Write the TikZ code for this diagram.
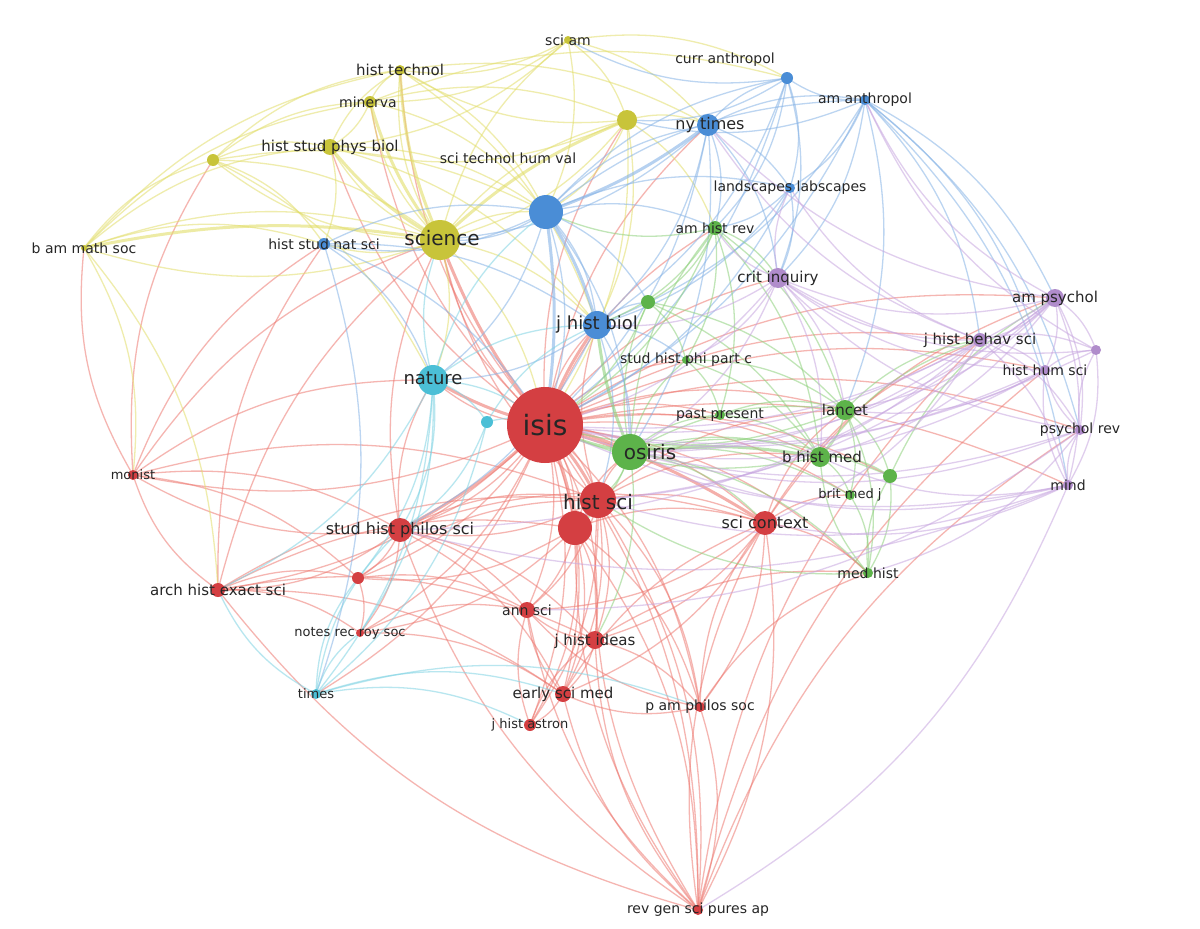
\documentclass[tikz,border=0pt]{standalone}
\usepackage{fontspec}
\setmainfont{DejaVu Sans}
\definecolor{cr}{HTML}{D43F42}\definecolor{er}{HTML}{EE7A72}
\definecolor{cy}{HTML}{C8C43A}\definecolor{ey}{HTML}{E2DE6A}
\definecolor{cb}{HTML}{4A8DD6}\definecolor{eb}{HTML}{86B3E6}
\definecolor{cg}{HTML}{5DB34A}\definecolor{eg}{HTML}{8ED17C}
\definecolor{cp}{HTML}{B08CCB}\definecolor{ep}{HTML}{C7A6E0}
\definecolor{cc}{HTML}{4BBFD6}\definecolor{ec}{HTML}{7FD3E3}
\tikzset{
 edge/.style={draw=#1, opacity=0.55, line width=1.3pt},
 thick edge/.style={draw=#1, opacity=0.6, line width=3pt},
 dot/.style={circle, fill=#1, draw=none, inner sep=0pt},
 lab/.style={font=\fontsize{#1}{#1}\selectfont, text=black!85, inner sep=0pt}
}
\begin{document}
\begin{tikzpicture}[x=1pt,y=-1pt]
\useasboundingbox[fill=white] (0,0) rectangle (1200,929);
\foreach \n/\x/\y in {isis/545/425,histsci/598/500,redb/575/528,scictx/765/523,shps/400/530,arch/218/590,monist/133/475,redc/358/578,notes/360/633,annsci/527/610,jhi/595/640,esm/563/694,jha/530/725,paps/700/707,rgs/698/910,times/316/694,nature/433/380,cyantwo/487/422,science/440/240,histtech/400/70,minerva/370/102,hspb/330/147,bams/84/248,ydot/213/160,sciam/568/40,ybig/627/120,nyt/708/125,curr/787/78,amanth/865/100,bluebig/546/212,landsc/790/188,hsns/324/244,jhb/597/325,ahr/715/228,gsm/648/302,stpc/686/360,crit/778/278,osiris/630/452,pastp/720/415,lancet/845/410,bhm/820/457,gdot/890/476,bmj/850/495,medhist/868/573,ampsy/1055/298,jhbs/980/340,pdot/1096/350,hhs/1045/370,psyrev/1080/430,mind/1068/485}
  \coordinate (\n) at (\x,\y);
% edges
\foreach \a/\b in {isis/histsci,isis/redb,isis/scictx,isis/shps,isis/arch,isis/monist,isis/redc,isis/notes,isis/annsci,isis/jhi,isis/esm,isis/jha,isis/paps,isis/rgs,isis/osiris,isis/nature,isis/science,isis/jhb,isis/lancet,isis/bhm,isis/medhist,isis/ahr,isis/crit,isis/jhbs,isis/times,isis/stpc,isis/pastp,histsci/annsci,histsci/jhi,histsci/esm,histsci/rgs,histsci/paps,histsci/scictx,histsci/shps,redb/annsci,redb/jhi,redb/jha,redb/rgs,redb/paps,shps/arch,shps/monist,shps/notes,shps/redc,shps/annsci,arch/monist,arch/notes,arch/redc,monist/science,monist/nature,monist/redc,scictx/rgs,scictx/medhist,scictx/paps,scictx/lancet,rgs/shps,rgs/annsci,rgs/esm,rgs/jhi,rgs/jhbs,esm/jha,esm/annsci,redb/scictx,histsci/osiris,jhi/paps,monist/hsns,monist/histsci,monist/shps,arch/histsci,arch/redb,arch/esm,arch/jhi,shps/esm,shps/jhi,shps/scictx,shps/histsci,redb/esm,redb/notes,redb/redc,histsci/jha,histsci/bhm,histsci/lancet,scictx/annsci,scictx/jhi,scictx/esm,scictx/bmj,scictx/ampsy,scictx/jhbs,paps/rgs,paps/esm,paps/annsci,jha/annsci,jha/jhi,jhi/annsci,jhi/esm,redc/annsci,redc/notes,redc/histsci,notes/annsci,notes/esm,rgs/redb,rgs/histsci,rgs/arch,rgs/scictx,rgs/psyrev,rgs/hhs,isis/hspb,isis/histtech,isis/minerva,isis/ybig,isis/nyt,isis/hhs,isis/mind,isis/psyrev,isis/ampsy,isis/gdot,isis/bmj,monist/ydot,monist/bams,arch/hsns,arch/science,shps/science,shps/nature,histsci/jhb,histsci/science,redb/osiris,esm/scictx,jhi/medhist,paps/medhist,paps/scictx}
  \draw[edge=er] (\a) to[bend left=18] (\b);
\foreach \a/\b in {isis/histsci,isis/redb,isis/shps,isis/osiris,histsci/redb,isis/jhb,isis/nature,isis/science,isis/scictx}
  \draw[thick edge=er] (\a) to[bend left=8] (\b);
\foreach \a/\b in {science/histtech,science/minerva,science/hspb,science/bams,science/ydot,science/sciam,science/ybig,science/hsns,science/nature,science/jhb,bams/ydot,bams/hspb,bams/minerva,bams/histtech,bams/science,bams/arch,ydot/hspb,ydot/minerva,ydot/histtech,ydot/hsns,ydot/science,sciam/histtech,sciam/ybig,sciam/nyt,sciam/minerva,ybig/histtech,ybig/nyt,ybig/hspb,ybig/isis,hspb/bluebig,histtech/bluebig,bams/monist,minerva/histtech,minerva/hspb,minerva/bluebig,minerva/ybig,hspb/histtech,hspb/hsns,hspb/jhb,histtech/nyt,histtech/jhb,science/bluebig,science/isis,sciam/bluebig,sciam/hspb,ybig/science,ybig/jhb,ybig/bluebig,ydot/bluebig,ydot/nature,bams/hsns,minerva/curr,sciam/curr,ybig/ahr}
  \draw[edge=ey] (\a) to[bend left=18] (\b);
\foreach \a/\b in {science/hspb,science/minerva,science/histtech,bams/science,science/ybig}
  \draw[thick edge=ey] (\a) to[bend left=10] (\b);
\foreach \a/\b in {bluebig/nyt,bluebig/curr,bluebig/amanth,bluebig/jhb,bluebig/isis,bluebig/science,bluebig/hsns,bluebig/landsc,bluebig/ahr,nyt/curr,nyt/amanth,nyt/landsc,nyt/jhb,nyt/isis,amanth/curr,amanth/landsc,amanth/ampsy,amanth/jhbs,amanth/crit,amanth/mind,amanth/psyrev,hsns/nature,hsns/times,hsns/jhb,curr/jhb,curr/ahr,jhb/osiris,jhb/nature,curr/sciam,nyt/science,nyt/ahr,nyt/crit,nyt/osiris,curr/landsc,curr/isis,curr/crit,amanth/isis,amanth/hhs,amanth/jhb,landsc/jhb,landsc/isis,landsc/ahr,landsc/crit,hsns/isis,hsns/bluebig,jhb/stpc,jhb/gsm,jhb/shps,jhb/histsci,bluebig/osiris,bluebig/nature,bluebig/gsm,curr/ybig,amanth/ybig,amanth/lancet}
  \draw[edge=eb] (\a) to[bend left=18] (\b);
\foreach \a/\b in {bluebig/jhb,bluebig/isis,nyt/bluebig}
  \draw[thick edge=eb] (\a) to[bend left=8] (\b);
\foreach \a/\b in {nature/times,nature/notes,nature/isis,nature/cyantwo,nature/arch,cyantwo/times,cyantwo/isis,times/shps,times/notes,times/esm,times/paps,nature/shps,nature/science,nature/jhb,nature/redc,cyantwo/shps,cyantwo/jhb,times/redc,times/arch,times/jha,nature/bluebig}
  \draw[edge=ec] (\a) to[bend left=18] (\b);
\foreach \a/\b in {osiris/ahr,osiris/gsm,osiris/stpc,osiris/pastp,osiris/lancet,osiris/bhm,osiris/gdot,osiris/bmj,osiris/medhist,osiris/scictx,lancet/bhm,lancet/bmj,lancet/medhist,lancet/gdot,ahr/stpc,ahr/gsm,ahr/crit,ahr/pastp,medhist/bhm,medhist/gdot,gsm/bhm,stpc/lancet,ahr/isis,ahr/jhb,ahr/lancet,ahr/bhm,gsm/isis,gsm/lancet,gsm/stpc,stpc/bhm,stpc/pastp,pastp/lancet,pastp/bhm,bhm/bmj,bhm/gdot,bmj/medhist,gdot/medhist,osiris/histsci,osiris/jhi,osiris/redb,lancet/isis,bhm/isis,medhist/histsci,gdot/ampsy,lancet/jhbs,bhm/jhbs,ahr/bluebig}
  \draw[edge=eg] (\a) to[bend left=18] (\b);
\foreach \a/\b in {osiris/isis,osiris/jhb,osiris/bhm}
  \draw[thick edge=eg] (\a) to[bend left=8] (\b);
\foreach \a/\b in {ampsy/jhbs,ampsy/pdot,ampsy/hhs,ampsy/psyrev,ampsy/mind,ampsy/crit,ampsy/isis,ampsy/osiris,jhbs/hhs,jhbs/pdot,jhbs/psyrev,jhbs/mind,jhbs/crit,jhbs/isis,mind/psyrev,mind/hhs,mind/isis,mind/scictx,mind/rgs,psyrev/pdot,psyrev/hhs,psyrev/medhist,crit/osiris,crit/isis,crit/jhb,hhs/lancet,pdot/mind,jhbs/landsc,ampsy/amanth,ampsy/histsci,ampsy/shps,ampsy/lancet,ampsy/bhm,jhbs/osiris,jhbs/histsci,jhbs/scictx,hhs/isis,hhs/osiris,hhs/crit,hhs/pdot,psyrev/isis,psyrev/osiris,psyrev/crit,mind/osiris,mind/histsci,mind/bhm,crit/ahr,crit/lancet,crit/bhm,crit/stpc,crit/landsc,pdot/isis,pdot/crit,pdot/amanth,jhbs/nyt,ampsy/nyt,mind/shps,psyrev/annsci}
  \draw[edge=ep] (\a) to[bend left=18] (\b);
% dots
\foreach \n/\r/\c in {isis/38/cr,histsci/18/cr,redb/17/cr,scictx/12/cr,shps/12/cr,arch/7/cr,monist/5/cr,redc/6/cr,notes/4/cr,annsci/8/cr,jhi/9/cr,esm/8/cr,jha/6/cr,paps/5/cr,rgs/5/cr,times/5/cc,nature/15/cc,cyantwo/6/cc,science/20/cy,histtech/5/cy,minerva/6/cy,hspb/8/cy,bams/3/cy,ydot/6/cy,sciam/4/cy,ybig/10/cy,nyt/11/cb,curr/6/cb,amanth/5/cb,bluebig/17/cb,landsc/5/cb,hsns/6/cb,jhb/14/cb,ahr/7/cg,gsm/7/cg,stpc/4/cg,crit/10/cp,osiris/18/cg,pastp/5/cg,lancet/10/cg,bhm/10/cg,gdot/7/cg,bmj/5/cg,medhist/5/cg,ampsy/9/cp,jhbs/7/cp,pdot/5/cp,hhs/5/cp,psyrev/5/cp,mind/5/cp}
  \node[dot=\c, minimum size=2*\r] (d-\n) at (\n) {};
% labels
\foreach \n/\x/\y/\s/\t in {isis/545/425/28/isis,histsci/598/502/20/hist sci,scictx/765/523/16/sci context,shps/400/530/16/stud hist philos sci,arch/218/590/15/arch hist exact sci,monist/133/475/13/monist,notes/350/633/13/notes rec roy soc,annsci/527/610/14/ann sci,jhi/595/641/15/j hist ideas,esm/563/694/15/early sci med,jha/530/725/13/j hist astron,paps/700/707/14/p am philos soc,rgs/698/910/14/rev gen sci pures ap,times/316/694/13/times,nature/433/378/18/nature,science/442/238/20/science,histtech/400/70/15/hist technol,minerva/368/102/14/minerva,hspb/330/147/15/hist stud phys biol,bams/84/248/14/b am math soc,sciam/568/40/14/sci am,nyt/710/125/16/ny times,curr/725/60/14/curr anthropol,amanth/865/100/14/am anthropol,bluebig/508/158/14/sci technol hum val,landsc/790/188/14/landscapes labscapes,hsns/324/244/14/hist stud nat sci,jhb/597/325/18/j hist biol,ahr/715/228/14/am hist rev,stpc/686/360/14/stud hist phi part c,crit/778/278/15/crit inquiry,osiris/650/452/20/osiris,pastp/720/415/14/past present,lancet/845/410/15/lancet,bhm/822/457/15/b hist med,bmj/850/495/13/brit med j,medhist/868/573/14/med hist,ampsy/1055/298/15/am psychol,jhbs/980/340/15/j hist behav sci,hhs/1045/370/14/hist hum sci,psyrev/1080/430/14/psychol rev,mind/1068/485/14/mind}
  \node[lab=\s] (l-\n) at (\x,\y) {\t};
\end{tikzpicture}
\end{document}
